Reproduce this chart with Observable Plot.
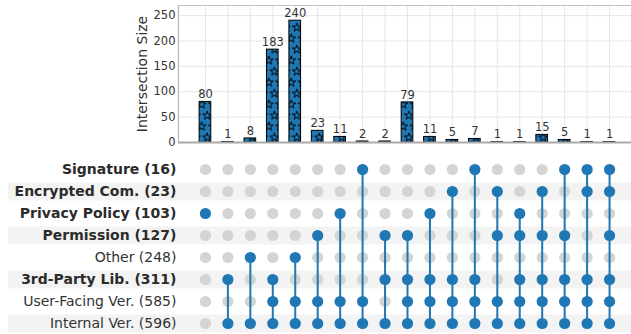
<!DOCTYPE html>
<html>
<head>
<meta charset="utf-8">
<script src="https://cdn.jsdelivr.net/npm/d3@7"></script>
<script src="https://cdn.jsdelivr.net/npm/@observablehq/plot@0.6"></script>
<style>
  html, body { margin: 0; padding: 0; background: #fff; overflow: hidden; }
  #chart { width: 631px; height: 334px; position: relative; }
  #chart svg { display: block; }
</style>
</head>
<body>
<div id="chart"></div>
<script>
// Sets shown as matrix rows, top to bottom, with their totals
const setNames = ["Signature", "Encrypted Com.", "Privacy Policy", "Permission", "Other", "3rd-Party Lib.", "User-Facing Ver.", "Internal Ver."];
const setSizes = [16, 23, 103, 127, 248, 311, 585, 596];
const boldSets = ["Signature", "Encrypted Com.", "Privacy Policy", "Permission", "3rd-Party Lib."];

// Intersection sizes, one per column
const intersectionSizes = [80, 1, 8, 183, 240, 23, 11, 2, 2, 79, 11, 5, 7, 1, 1, 15, 5, 1, 1];

// Members of each intersection column
const intersectionMembers = [
  ["Privacy Policy"],
  ["3rd-Party Lib.", "Internal Ver."],
  ["Other", "Internal Ver."],
  ["3rd-Party Lib.", "User-Facing Ver.", "Internal Ver."],
  ["Other", "User-Facing Ver.", "Internal Ver."],
  ["Permission", "User-Facing Ver.", "Internal Ver."],
  ["Privacy Policy", "User-Facing Ver.", "Internal Ver."],
  ["Signature", "User-Facing Ver.", "Internal Ver."],
  ["Permission", "3rd-Party Lib.", "Internal Ver."],
  ["Permission", "3rd-Party Lib.", "User-Facing Ver.", "Internal Ver."],
  ["Privacy Policy", "3rd-Party Lib.", "User-Facing Ver.", "Internal Ver."],
  ["Encrypted Com.", "3rd-Party Lib.", "User-Facing Ver.", "Internal Ver."],
  ["Signature", "3rd-Party Lib.", "User-Facing Ver.", "Internal Ver."],
  ["Encrypted Com.", "Permission", "User-Facing Ver.", "Internal Ver."],
  ["Privacy Policy", "Permission", "3rd-Party Lib.", "User-Facing Ver.", "Internal Ver."],
  ["Encrypted Com.", "Permission", "3rd-Party Lib.", "User-Facing Ver.", "Internal Ver."],
  ["Signature", "Permission", "3rd-Party Lib.", "User-Facing Ver.", "Internal Ver."],
  ["Signature", "Encrypted Com.", "3rd-Party Lib.", "User-Facing Ver.", "Internal Ver."],
  ["Signature", "Encrypted Com.", "Permission", "3rd-Party Lib.", "User-Facing Ver.", "Internal Ver."]
];

const yTicks = [0, 50, 100, 150, 200, 250];

const BLUE = "#1f77b4";
const TEXT = "#333333";
const W = 631;
const LEFT = 178, RIGHT_EDGE = 636;
const xDomain = [-1.2, intersectionSizes.length + 0.2];
const toX = d3.scaleLinear().domain(xDomain).range([LEFT, RIGHT_EDGE]);

const columns = intersectionSizes.map((v, i) => ({i, v, members: intersectionMembers[i]}));
const rowLabel = (name) => `${name} (${setSizes[setNames.indexOf(name)]})`;

// ---- Bar chart of intersection sizes ----
const bars = Plot.plot({
  width: W,
  height: 150,
  marginLeft: LEFT,
  marginRight: W - RIGHT_EDGE,
  marginTop: 5,
  marginBottom: 8,
  style: {fontFamily: "DejaVu Sans, sans-serif", fontSize: "11.5px", color: TEXT, background: "white", overflow: "visible"},
  x: {domain: xDomain, axis: null},
  y: {domain: [0, 270], ticks: yTicks, tickSize: 0, tickPadding: 3, label: null, tickFormat: d3.format("d")},
  marks: [
    Plot.ruleY(yTicks, {stroke: "#e6e6e6", strokeWidth: 1}),
    Plot.ruleX(columns, {x: "i", y1: 0, y2: 270, stroke: "#e6e6e6", strokeWidth: 1}),
    Plot.ruleY([270], {x1: xDomain[0], x2: xDomain[1], stroke: "#c0c0c0", strokeWidth: 1.2}),
    Plot.ruleX([xDomain[0]], {y1: 0, y2: 270, stroke: "#b5b5b5", strokeWidth: 1.2}),
    Plot.rectY(columns, {x1: d => d.i - 0.26, x2: d => d.i + 0.26, y1: 0, y2: "v", fill: "url(#star-hatch)", stroke: "black", strokeWidth: 1}),
    Plot.ruleY([0], {x1: xDomain[0], x2: xDomain[1], stroke: "#aaaaaa", strokeWidth: 2}),
    Plot.text(columns, {x: "i", y: "v", text: d => String(d.v), dy: -7.6, fill: TEXT, fontSize: 11.5}),
    Plot.text(["Intersection Size"], {frameAnchor: "left", textAnchor: "middle", dx: -36, rotate: -90, fill: TEXT, fontSize: 14})
  ]
});

// star hatch pattern for the bars
const defs = d3.select(bars).insert("defs", ":first-child");
const pat = defs.append("pattern")
  .attr("id", "star-hatch")
  .attr("patternUnits", "userSpaceOnUse")
  .attr("width", 11.2)
  .attr("height", 22);
pat.append("rect").attr("width", 11.2).attr("height", 22).attr("fill", BLUE);
const star = d3.symbol(d3.symbolStar).size(24)();
[[5.6, 5.5], [0.1, 16.5], [11.3, 16.5]].forEach(([px, py]) => {
  pat.append("path").attr("d", star).attr("transform", `translate(${px},${py})`)
    .attr("fill", "none").attr("stroke", "black").attr("stroke-width", 0.9);
});

// ---- Membership matrix ----
const cells = [];
columns.forEach(c => setNames.forEach(s => cells.push({i: c.i, set: s, on: c.members.includes(s)})));
const spans = columns.map(c => {
  const idx = c.members.map(m => setNames.indexOf(m));
  return {i: c.i, top: setNames[d3.min(idx)], bottom: setNames[d3.max(idx)]};
});
const shaded = setNames.filter((s, k) => k % 2 === 1);
const bandLeft = toX.invert(8);
const labelX = toX.invert(176);

const matrix = Plot.plot({
  width: W,
  height: 184,
  marginLeft: LEFT,
  marginRight: W - RIGHT_EDGE,
  marginTop: 18.7,
  marginBottom: 10,
  style: {fontFamily: "DejaVu Sans, sans-serif", fontSize: "14px", color: TEXT, background: "white", overflow: "visible"},
  x: {domain: xDomain, axis: null},
  y: {type: "point", domain: setNames, padding: 0, axis: null},
  marks: [
    Plot.ruleY(shaded, {y: d => d, x1: bandLeft, x2: xDomain[1], stroke: "#f3f3f3", strokeWidth: 18}),
    Plot.dot(cells.filter(d => !d.on), {x: "i", y: "set", r: 5.6, fill: "#d4d4d4", stroke: "none"}),
    Plot.ruleX(spans, {x: "i", y1: "top", y2: "bottom", stroke: BLUE, strokeWidth: 2}),
    Plot.dot(cells.filter(d => d.on), {x: "i", y: "set", r: 5.6, fill: BLUE, stroke: "none"}),
    Plot.text(setNames.filter(s => boldSets.includes(s)), {x: labelX, y: d => d, text: rowLabel, textAnchor: "end", fontWeight: "bold", fill: "#2b2b2b", fontSize: 14}),
    Plot.text(setNames.filter(s => !boldSets.includes(s)), {x: labelX, y: d => d, text: rowLabel, textAnchor: "end", fill: TEXT, fontSize: 14})
  ]
});

const root = document.getElementById("chart");
root.appendChild(bars);
root.appendChild(matrix);
</script>
</body>
</html>
